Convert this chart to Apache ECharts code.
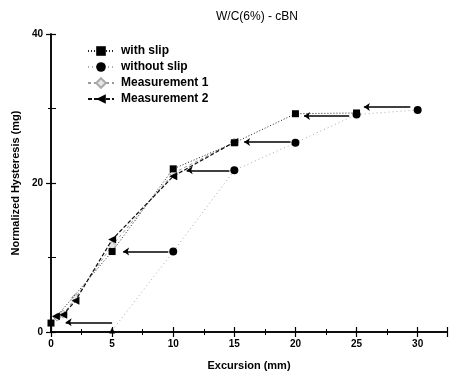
<!DOCTYPE html>
<html><head><meta charset="utf-8">
<script src="https://cdn.jsdelivr.net/npm/echarts@6/dist/echarts.min.js"></script>
<style>html,body{margin:0;padding:0;background:#fff}#c{width:454px;height:376px}</style>
</head><body><div id="c"></div>
<script>
const withSlipX = [0, 5, 10, 15, 20, 25];
const withSlipY = [1.2, 10.8, 21.9, 25.4, 29.3, 29.4];
const withoutSlipX = [5, 10, 15, 20, 25, 30];
const withoutSlipY = [0.2, 10.8, 21.7, 25.4, 29.2, 29.8];
const meas1X = [0.5, 1, 2, 5, 10, 15];
const meas1Y = [2.0, 2.4, 4.6, 11.6, 21.3, 25.5];
const meas2X = [0.4, 1, 2, 5, 10, 15];
const meas2Y = [2.1, 2.3, 4.2, 12.4, 20.9, 25.5];
// arrows: [fromX, toX, y]
const arrowFromX = [29.4, 24.4, 19.6, 14.6, 9.6, 5.0];
const arrowToX   = [25.6, 20.7, 15.8, 11.1, 5.9, 1.2];
const arrowY     = [30.2, 29.0, 25.5, 21.7, 10.8, 1.3];
const legendNames = ['with slip', 'without slip', 'Measurement 1', 'Measurement 2'];

const zip = (xs, ys) => xs.map((x, i) => [x, ys[i]]);
const font = 'Liberation Sans, Arial, sans-serif';
const chart = echarts.init(document.getElementById('c'));
const axisCommon = {
  axisLine: {show: true, lineStyle: {color: '#000', width: 1.5}},
  axisTick: {show: true, inside: true, length: 5, lineStyle: {color: '#000', width: 1.2}},
  minorTick: {show: true, splitNumber: 2, length: 3, lineStyle: {color: '#000', width: 1}},
  splitLine: {show: false},
  axisLabel: {color: '#000', fontFamily: font, fontWeight: 'bold', fontSize: 10}
};
chart.setOption({
  backgroundColor: '#fff',
  animation: false,
  title: {text: 'W/C(6%) - cBN', left: 252, textAlign: 'center', top: 6,
    textStyle: {fontFamily: font, fontSize: 12, fontWeight: 'normal', color: '#000'}},
  grid: {left: 51, right: 7, top: 34, bottom: 43},
  legend: {
    data: legendNames, orient: 'vertical', left: 82, top: 40, itemGap: 4,
    itemWidth: 26, itemHeight: 12,
    textStyle: {fontFamily: font, fontSize: 12, fontWeight: 'bold', color: '#000', padding: [0, 0, 0, 2]}
  },
  xAxis: [
    Object.assign({}, axisCommon, {type: 'value', min: 0, max: 32.4, interval: 5,
      name: 'Excursion (mm)', nameLocation: 'middle', nameGap: 28,
      nameTextStyle: {fontFamily: font, fontWeight: 'bold', fontSize: 11, color: '#000'},
      axisLabel: Object.assign({}, axisCommon.axisLabel, {margin: 7,
        formatter: v => (Math.abs(v % 5) < 1e-6 ? String(v) : '')})}),
    Object.assign({}, axisCommon, {type: 'value', min: 0, max: 32.4, interval: 5, position: 'top',
      axisLabel: {show: false}})
  ],
  yAxis: [
    Object.assign({}, axisCommon, {type: 'value', min: 0, max: 40, interval: 20,
      minorTick: {show: true, splitNumber: 2, length: 5, lineStyle: {color: '#000', width: 1}},
      name: 'Normalized Hysteresis (mg)', nameLocation: 'middle', nameGap: 27,
      nameTextStyle: {fontFamily: font, fontWeight: 'bold', fontSize: 11, color: '#000'},
      axisLabel: Object.assign({}, axisCommon.axisLabel, {margin: 8,
        formatter: v => String(v),
        rich: {}})}),
    Object.assign({}, axisCommon, {type: 'value', min: 0, max: 40, interval: 20, position: 'right',
      axisLabel: {show: false}})
  ],
  series: [
    {name: 'with slip', type: 'line', data: zip(withSlipX, withSlipY),
      symbol: 'rect', symbolSize: 7, itemStyle: {color: '#000'},
      lineStyle: {color: '#222', width: 1, type: [1, 2]}, z: 5},
    {name: 'without slip', type: 'line',
      data: zip(withoutSlipX, withoutSlipY).map((p, i) => i === 0 ? {value: p, symbol: 'triangle', symbolSize: 6} : p),
      symbol: 'circle', symbolSize: 8, itemStyle: {color: '#000'},
      lineStyle: {color: '#aaa', width: 1, type: [1, 3]}, z: 4},
    {name: 'Measurement 1', type: 'line', data: zip(meas1X, meas1Y),
      symbol: 'diamond', symbolSize: 8, itemStyle: {color: '#e6e6e6', borderColor: '#aaa', borderWidth: 1},
      lineStyle: {color: '#999', width: 1, type: [3, 3]}, z: 3},
    {name: 'Measurement 2', type: 'line', data: zip(meas2X, meas2Y),
      symbol: 'triangle', symbolRotate: 90, symbolSize: 8, itemStyle: {color: '#000'},
      lineStyle: {color: '#111', width: 1.2, type: [4, 2]}, z: 4},
    {name: 'arrows', type: 'lines', coordinateSystem: 'cartesian2d', xAxisIndex: 0, yAxisIndex: 0,
      symbol: ['none', 'arrow'], symbolSize: 6,
      lineStyle: {color: '#000', width: 1.5, opacity: 1},
      data: arrowY.map((y, i) => ({coords: [[arrowFromX[i], y], [arrowToX[i], y]]})), z: 6}
  ]
});
</script></body></html>
